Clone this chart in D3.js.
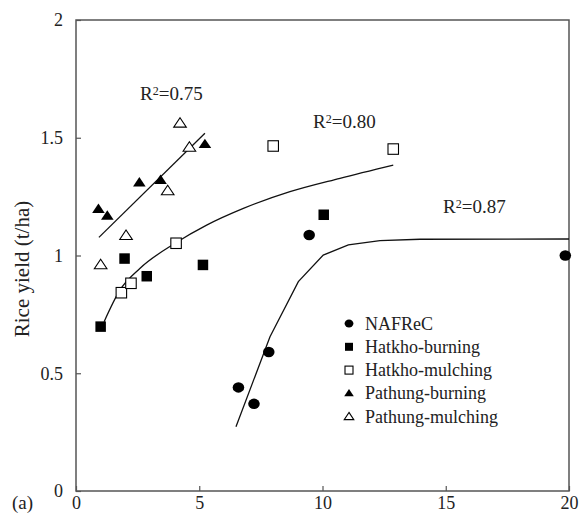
<html>
<body style="margin:0">
  <script src="https://cdn.jsdelivr.net/npm/d3@7"></script>
  <div id="chart"></div>

  <script>
    // Points (x axis unitless, y = rice yield t/ha)
    var nafrecX = [6.59, 7.22, 7.82, 9.46, 19.85];
    var nafrecY = [0.44, 0.37, 0.59, 1.087, 1.0];
    var hatkhoBurnX = [1.0, 1.97, 2.87, 5.15, 10.05];
    var hatkhoBurnY = [0.698, 0.987, 0.912, 0.96, 1.173];
    var hatkhoMulchX = [1.84, 2.23, 4.06, 8.0, 12.87];
    var hatkhoMulchY = [0.842, 0.882, 1.052, 1.465, 1.452];
    var pathungBurnX = [0.91, 1.27, 2.57, 3.43, 5.23];
    var pathungBurnY = [1.197, 1.168, 1.309, 1.32, 1.472];
    var pathungMulchX = [1.0, 2.03, 3.72, 4.22, 4.6];
    var pathungMulchY = [0.96, 1.084, 1.274, 1.561, 1.459];

    // fitted curves
    var nafrecFitX = [6.49, 7.87, 9.02, 10.03, 11.05, 12.33, 13.96, 20];
    var nafrecFitY = [0.273, 0.655, 0.889, 1.002, 1.045, 1.063, 1.069, 1.07];
    var hatkhoFitX = [1.14, 1.78, 2.6, 4.02, 5.3, 6.79, 8.68, 10.71, 12.87];
    var hatkhoFitY = [0.719, 0.853, 0.946, 1.052, 1.129, 1.2, 1.271, 1.328, 1.384];
    var pathungFitX = [0.93, 5.23];
    var pathungFitY = [1.077, 1.519];

    var seriesNames = ["NAFReC", "Hatkho-burning", "Hatkho-mulching", "Pathung-burning", "Pathung-mulching"];
    var xTicks = [0, 5, 10, 15, 20];
    var yTicks = [0, 0.5, 1, 1.5, 2];
    var r2Labels = ["0.75", "0.80", "0.87"];

    var width = 579, height = 513;
    var margin = { top: 20, right: 10, bottom: 22, left: 76 };
    var serif = "'Liberation Serif'";

    var svg = d3.select("#chart").append("svg")
      .attr("width", width)
      .attr("height", height);

    var x = d3.scaleLinear().domain([0, 20]).range([margin.left, width - margin.right]);
    var y = d3.scaleLinear().domain([0, 2]).range([height - margin.bottom, margin.top]);

    var axisColor = "#555";

    // axes with inward ticks
    var xAxis = svg.append("g")
      .attr("transform", "translate(0," + y(0) + ")")
      .call(d3.axisBottom(x).tickValues(xTicks).tickSize(-5).tickSizeOuter(0).tickPadding(5).tickFormat(d3.format("")));
    var yAxis = svg.append("g")
      .attr("transform", "translate(" + x(0) + ",0)")
      .call(d3.axisLeft(y).tickValues(yTicks).tickSize(-5).tickSizeOuter(0).tickPadding(13).tickFormat(d3.format("")));

    [xAxis, yAxis].forEach(function (g) {
      g.attr("font-size", 18).attr("font-family", serif);
      g.select(".domain").remove();
      g.selectAll("line").attr("stroke", axisColor).attr("stroke-width", 1.2);
      g.selectAll("text").attr("fill", "#222");
    });

    // frame
    svg.append("rect")
      .attr("x", x(0))
      .attr("y", y(2))
      .attr("width", x(20) - x(0))
      .attr("height", y(0) - y(2))
      .attr("fill", "none")
      .attr("stroke", axisColor)
      .attr("stroke-width", 1.5);

    // y title
    svg.append("text")
      .attr("transform", "translate(29,269) rotate(-90)")
      .attr("text-anchor", "middle")
      .attr("font-size", 21)
      .attr("fill", "#222")
      .text("Rice yield (t/ha)");

    svg.append("text")
      .attr("x", 12)
      .attr("y", 509)
      .attr("font-size", 19)
      .attr("fill", "#222")
      .text("(a)");

    // fitted lines
    function zip(xs, ys) {
      return xs.map(function (d, i) { return [d, ys[i]]; });
    }
    var line = d3.line().x(d => x(d[0])).y(d => y(d[1]));
    var smooth = d3.line().x(d => x(d[0])).y(d => y(d[1])).curve(d3.curveMonotoneX);

    svg.append("path").attr("d", line(zip(pathungFitX, pathungFitY)))
      .attr("fill", "none").attr("stroke", "#111").attr("stroke-width", 1.3);
    svg.append("path").attr("d", smooth(zip(hatkhoFitX, hatkhoFitY)))
      .attr("fill", "none").attr("stroke", "#111").attr("stroke-width", 1.3);
    svg.append("path").attr("d", line(zip(nafrecFitX, nafrecFitY)))
      .attr("fill", "none").attr("stroke", "#111").attr("stroke-width", 1.3);

    // marker shapes
    function drawMarker(g, kind, cx, cy, s) {
      if (kind === 0) {
        g.append("ellipse").attr("cx", cx).attr("cy", cy).attr("rx", s * 0.55).attr("ry", s * 0.5)
          .attr("fill", "#000");
      } else if (kind === 1 || kind === 2) {
        g.append("rect").attr("x", cx - s / 2).attr("y", cy - s / 2).attr("width", s).attr("height", s)
          .attr("fill", kind === 1 ? "#000" : "#fff")
          .attr("stroke", "#000").attr("stroke-width", kind === 1 ? 0 : 1.1);
      } else {
        var h = s * 0.9;
        var pts = [[cx, cy - h * 0.6], [cx + s * 0.6, cy + h * 0.4], [cx - s * 0.6, cy + h * 0.4]];
        g.append("polygon").attr("points", pts.map(p => p.join(",")).join(" "))
          .attr("fill", kind === 3 ? "#000" : "#fff")
          .attr("stroke", "#000").attr("stroke-width", kind === 3 ? 0 : 1.1)
          .attr("stroke-linejoin", "miter");
      }
    }

    var seriesX = [nafrecX, hatkhoBurnX, hatkhoMulchX, pathungBurnX, pathungMulchX];
    var seriesY = [nafrecY, hatkhoBurnY, hatkhoMulchY, pathungBurnY, pathungMulchY];
    var points = svg.append("g");
    seriesX.forEach(function (xs, k) {
      xs.forEach(function (d, i) {
        drawMarker(points, k, x(d), y(seriesY[k][i]), 10.5);
      });
    });

    // R2 labels
    var r2Pos = [[140, 100], [313, 128], [443, 213]];
    r2Labels.forEach(function (lbl, i) {
      var t = svg.append("text")
        .attr("x", r2Pos[i][0])
        .attr("y", r2Pos[i][1])
        .attr("font-size", 19)
        .attr("fill", "#222");
      t.append("tspan").text("R");
      t.append("tspan").attr("dy", -5).attr("font-size", 12).text("2");
      t.append("tspan").attr("dy", 5).text("=" + lbl);
    });

    // legend
    var legend = svg.append("g");
    seriesNames.forEach(function (name, k) {
      var ly = 323.5 + k * 23.3;
      drawMarker(legend, k, 349, ly, 8);
      legend.append("text")
        .attr("x", 365)
        .attr("y", ly + 6)
        .attr("font-size", 18)
        .attr("fill", "#222")
        .text(name);
    });

    // serif on each text node, inline so nothing overrides it
    svg.selectAll("text").attr("font-family", serif).style("font-family", serif, "important");
  </script>

</body>

</html>
